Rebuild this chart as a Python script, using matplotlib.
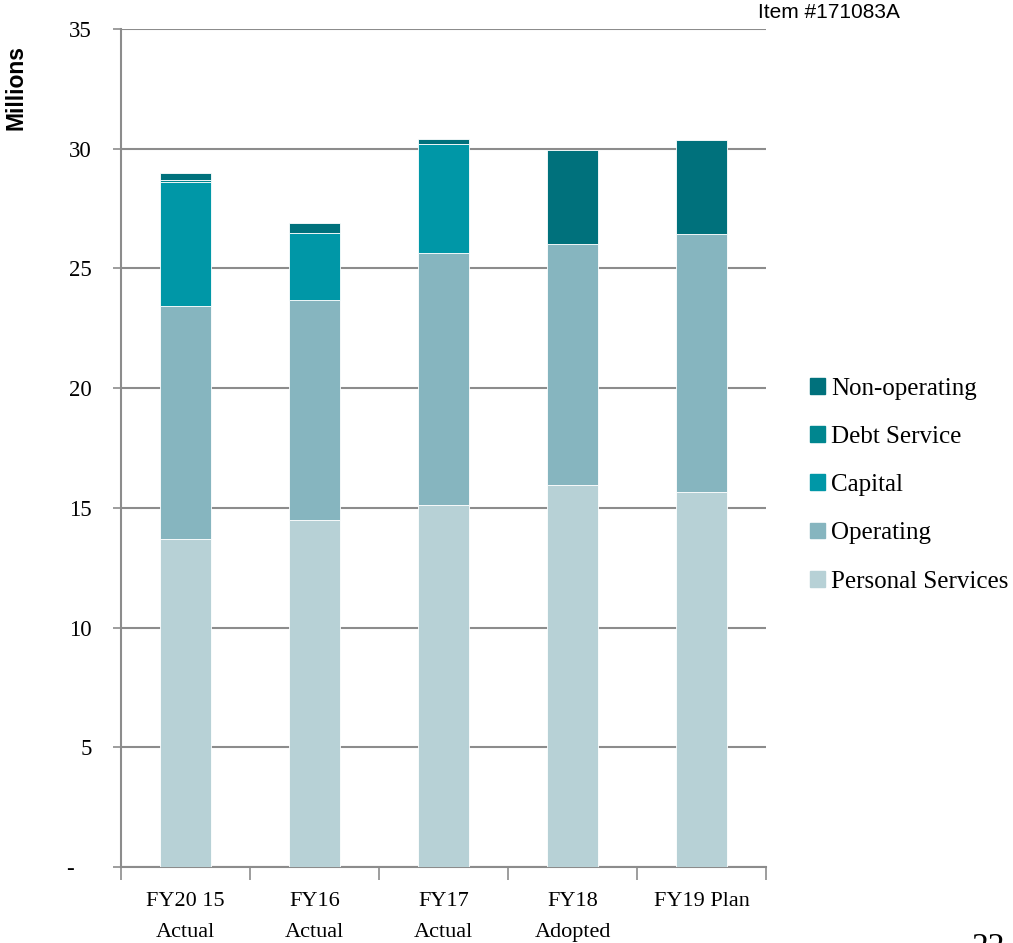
import numpy as np
import matplotlib.pyplot as plt
from matplotlib.patches import Patch

categories = ['FY20 15\nActual', 'FY16\nActual', 'FY17\nActual', 'FY18\nAdopted', 'FY19 Plan']
personal = [13.70, 14.49, 15.12, 15.96, 15.66]
operating = [9.73, 9.19, 10.51, 10.06, 10.79]
capital = [5.19, 2.79, 4.56, 0.0, 0.0]
debt = [0.08, 0.02, 0.02, 0.0, 0.0]
nonop = [0.27, 0.40, 0.20, 3.93, 3.93]
ytick_labels = ['-   ', '5', '10', '15', '20', '25', '30', '35']

series = [
  ('Personal Services', personal, '#b7d1d6'),
  ('Operating', operating, '#86b5bf'),
  ('Capital', capital, '#0097a7'),
  ('Debt Service', debt, '#00868f'),
  ('Non-operating', nonop, '#00717c'),
]

serif = ['Liberation Serif', 'DejaVu Serif']
sans = ['Liberation Sans', 'DejaVu Sans']

fig = plt.figure(figsize=(10.13, 9.43), dpi=100)
ax = fig.add_axes([121/1013, 1-867/943, 645/1013, 838/943])

x = np.arange(len(categories))
bottom = np.zeros(len(categories))
for name, vals, col in series:
  ax.bar(x, vals, 0.4, bottom=bottom, color=col, edgecolor='white', linewidth=0.6, zorder=3)
  bottom += np.array(vals)

ax.set_xlim(-0.5, len(categories)-0.5)
ax.set_ylim(0, 35)
ax.set_yticks(np.arange(0, 36, 5))
ax.set_yticklabels(ytick_labels, fontfamily=serif, fontsize=16.5)
ax.yaxis.grid(True, color='#8c8c8c', linewidth=1.5, zorder=0)

ax.set_xticks(x)
ax.set_xticklabels(categories, fontfamily=serif, fontsize=16, linespacing=1.85)
ax.tick_params(axis='x', length=0, pad=18)
ax.set_xticks(np.arange(-0.5, len(categories), 1), minor=True)
ax.tick_params(axis='x', which='minor', length=9, color='#8c8c8c', width=1.2)
ax.tick_params(axis='y', length=6, color='#8c8c8c', width=1.2, pad=15)

for s in ['top', 'right']:
  ax.spines[s].set_visible(False)
for s in ['left', 'bottom']:
  ax.spines[s].set_color('#8c8c8c')
  ax.spines[s].set_linewidth(1.5)

handles = [Patch(color=col, label=name) for name, vals, col in series][::-1]
fig.legend(handles=handles, loc='upper left', bbox_to_anchor=(787/1013, 1-355/943),
           frameon=False, prop={'family': serif, 'size': 18}, handlelength=0.6,
           handleheight=0.6, handletextpad=0.25, labelspacing=1.05)

fig.text(16/1013, 1-87/943, 'Millions', rotation=90, ha='center', va='center',
         fontfamily=sans, fontsize=16.5, fontweight='bold')
fig.text(758/1013, 1-12/943, 'Item #171083A', ha='left', va='center',
         fontfamily=sans, fontsize=15)
fig.text(988/1013, 1-933/943, '22', ha='center', va='top',
         fontfamily=serif, fontsize=24)

fig.savefig('out.png', dpi=100)
